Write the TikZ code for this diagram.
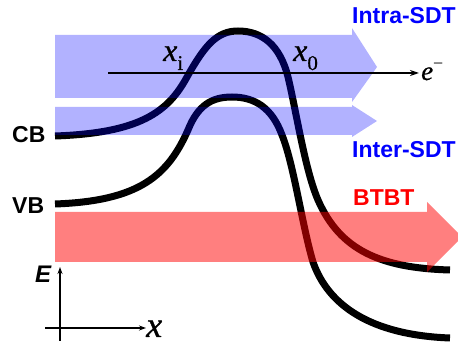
\documentclass[tikz,border=0pt]{standalone}
\usepackage{fontspec}
\setmainfont{Liberation Serif}
\setsansfont{Liberation Sans}
\newfontfamily\xitfont{Liberation Serif Italic}[FakeBold=0.8]
\newfontfamily\xrmfont{Liberation Serif}[FakeBold=0.5]
\usetikzlibrary{arrows.meta}
\begin{document}
\begin{tikzpicture}[x=1pt,y=-1pt,
  bandline/.style={line width=7pt, line cap=butt},
  lbl/.style={font=\sffamily\bfseries\fontsize{23}{23}\selectfont, inner sep=0pt},
  bluearrow/.style={fill=blue, fill opacity=0.3, draw=none},
  redarrow/.style={fill=red, fill opacity=0.5, draw=none},
  axis/.style={line width=1.5pt, -{Stealth[length=7pt,width=5pt]}}]
\useasboundingbox (0,0) rectangle (458,347);
% band edges
\draw[bandline] (55,136) .. controls (140,133) and (168,112) .. (187,77)
  .. controls (205,45) and (217,31) .. (238,31)
  .. controls (262,31) and (280,45) .. (288,77)
  .. controls (296,110) and (305,170) .. (318,200)
  .. controls (340,250) and (380,268) .. (450,270);
\draw[bandline] (55,204) .. controls (140,201) and (168,175) .. (188,130)
  .. controls (198,105) and (212,97) .. (232,97)
  .. controls (255,97) and (272,108) .. (282,135)
  .. controls (294,165) and (302,225) .. (313,262)
  .. controls (328,305) and (370,335) .. (450,338);
% transport arrows
\fill[bluearrow] (55,35) -- (352,35) -- (352,28) -- (377,67) -- (352,102) -- (352,98) -- (55,98) -- cycle;
\fill[bluearrow] (55,107) -- (352,107) -- (352,105) -- (377,121) -- (352,137) -- (352,135) -- (55,135) -- cycle;
\fill[redarrow] (55,212) -- (427,212) -- (427,202) -- (462,237) -- (427,272) -- (427,262) -- (55,262) -- cycle;
% electron path
\coordinate (estart) at (108,73);
\coordinate (eend) at (419,73);
\draw[line width=1.6pt, -{Stealth[length=9pt,width=6pt]}] (estart) -- (eend);
\node[anchor=base west, inner sep=0pt, font=\fontsize{27}{27}\selectfont] (elec) at (421,80) {{\xitfont e}\raisebox{10pt}{\fontsize{18}{18}\selectfont −}};
\node[anchor=base west, inner sep=0pt, font=\fontsize{32}{32}\selectfont] (xi) at (163,61) {{\xitfont x}\raisebox{-9pt}{\fontsize{21}{21}\selectfont\xrmfont i}};
\node[anchor=base west, inner sep=0pt, font=\fontsize{32}{32}\selectfont] (xo) at (293,61) {{\xitfont x}\raisebox{-9pt}{\fontsize{21}{21}\selectfont\xrmfont 0}};
% labels
\node[lbl, text=blue, anchor=west] (intra) at (352,15.5) {Intra-SDT};
\node[lbl, text=blue, anchor=west] (inter) at (352,150) {Inter-SDT};
\node[lbl, text=red, anchor=west] (btbt) at (353,197.5) {BTBT};
\node[lbl, anchor=west] (cb) at (12,135) {CB};
\node[lbl, anchor=west] (vb) at (12,206) {VB};
% axes
\coordinate (ybot) at (60,341);
\coordinate (ytop) at (60,267);
\coordinate (xleft) at (45,328);
\coordinate (xright) at (146,328);
\draw[axis] (ybot) -- (ytop);
\draw[axis] (xleft) -- (xright);
\node[anchor=base west, inner sep=0pt, font=\sffamily\bfseries\itshape\fontsize{24}{24}\selectfont] (elab) at (35,283) {E};
\node[anchor=base west, inner sep=0pt, font=\fontsize{36}{36}\selectfont] (xlab) at (146,337) {\xitfont x};
\end{tikzpicture}
\end{document}
